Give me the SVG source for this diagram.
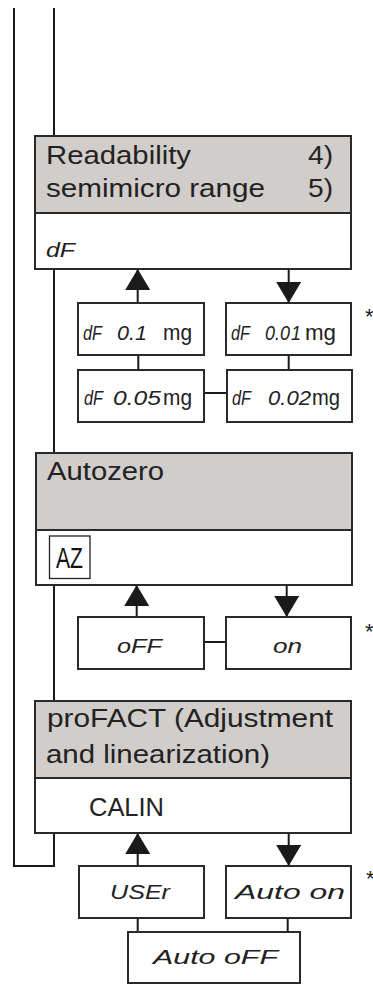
<svg xmlns="http://www.w3.org/2000/svg" width="373" height="984" viewBox="0 0 373 984">
<defs>
<marker id="ah" markerUnits="userSpaceOnUse" markerWidth="22" markerHeight="26" refX="21" refY="12.5" orient="auto">
<path d="M0,0 L21,12.5 L0,25 Z" fill="#1a1a1a"/>
</marker>
<style>
.ln{stroke:#1a1a1a;stroke-width:2;fill:none}
.box{fill:#fff;stroke:#2a2a2a;stroke-width:2}
.hd{fill:#d1cdca;stroke:#2a2a2a;stroke-width:2}
.t{font-family:"Liberation Sans",Arial,sans-serif;font-size:25.5px;fill:#222}
.seg{font-family:"Liberation Sans",Arial,sans-serif;font-style:italic;font-size:20px;fill:#222}
.mg{font-family:"Liberation Sans",Arial,sans-serif;font-size:22px;fill:#222}
.az{font-family:"Liberation Sans",Arial,sans-serif;font-size:29px;fill:#111}
.st{font-family:"Liberation Sans",Arial,sans-serif;font-size:22px;fill:#222}
</style>
</defs>
<g id="connectors">
<path class="ln" d="M54,8 V866 H14 V8"/>
<line class="ln" x1="137.7" y1="303" x2="137.7" y2="269" marker-end="url(#ah)"/>
<line class="ln" x1="288.7" y1="269" x2="288.7" y2="303" marker-end="url(#ah)"/>
<line class="ln" x1="138.3" y1="355" x2="138.3" y2="370"/>
<line class="ln" x1="288.7" y1="355" x2="288.7" y2="370"/>
<line class="ln" x1="204" y1="393" x2="227" y2="393"/>
<line class="ln" x1="136.7" y1="617" x2="136.7" y2="585" marker-end="url(#ah)"/>
<line class="ln" x1="286.7" y1="585" x2="286.7" y2="617" marker-end="url(#ah)"/>
<line class="ln" x1="204" y1="642" x2="226" y2="642"/>
<line class="ln" x1="137.7" y1="866" x2="137.7" y2="833" marker-end="url(#ah)"/>
<line class="ln" x1="288.7" y1="833" x2="288.7" y2="866" marker-end="url(#ah)"/>
<line class="ln" x1="137.7" y1="918" x2="137.7" y2="932"/>
<line class="ln" x1="287.7" y1="918" x2="287.7" y2="932"/>
</g>
<g id="readability">
<rect class="hd" x="35" y="136" width="316" height="77"/>
<rect class="box" x="35" y="213" width="316" height="56"/>
<text class="t" x="46" y="164" textLength="145" lengthAdjust="spacingAndGlyphs">Readability</text>
<text class="t" x="308" y="164" textLength="25" lengthAdjust="spacingAndGlyphs">4)</text>
<text class="t" x="46" y="197" textLength="219" lengthAdjust="spacingAndGlyphs">semimicro range</text>
<text class="t" x="308" y="197" textLength="25" lengthAdjust="spacingAndGlyphs">5)</text>
<text class="seg" x="46" y="257" font-size="21" textLength="29" lengthAdjust="spacingAndGlyphs">dF</text>
</g>
<g id="df01">
<rect class="box" x="78" y="303" width="126" height="52"/>
<text class="seg" x="83" y="340" textLength="19" lengthAdjust="spacingAndGlyphs">dF</text>
<text class="seg" x="117" y="340" textLength="30" lengthAdjust="spacingAndGlyphs">0.1</text>
<text class="mg" x="163" y="340" textLength="29" lengthAdjust="spacingAndGlyphs">mg</text>
</g>
<g id="df001">
<rect class="box" x="226" y="303" width="125" height="52"/>
<text class="seg" x="231" y="340" textLength="19" lengthAdjust="spacingAndGlyphs">dF</text>
<text class="seg" x="265" y="340" textLength="25" lengthAdjust="spacingAndGlyphs">0.0</text>
<text class="seg" x="291" y="340" textLength="10" lengthAdjust="spacingAndGlyphs">1</text>
<text class="mg" x="305" y="340" textLength="31" lengthAdjust="spacingAndGlyphs">mg</text>
</g>
<g id="df005">
<rect class="box" x="78" y="370" width="126" height="52"/>
<text class="seg" x="84" y="405" textLength="19" lengthAdjust="spacingAndGlyphs">dF</text>
<text class="seg" x="113" y="405" textLength="48" lengthAdjust="spacingAndGlyphs">0.05</text>
<text class="mg" x="163" y="405" textLength="29" lengthAdjust="spacingAndGlyphs">mg</text>
</g>
<g id="df002">
<rect class="box" x="227" y="370" width="125" height="52"/>
<text class="seg" x="232" y="405" textLength="19" lengthAdjust="spacingAndGlyphs">dF</text>
<text class="seg" x="268" y="405" textLength="43" lengthAdjust="spacingAndGlyphs">0.02</text>
<text class="mg" x="312" y="405" textLength="28" lengthAdjust="spacingAndGlyphs">mg</text>
</g>
<g id="autozero">
<rect class="hd" x="36" y="453" width="316" height="77"/>
<rect class="box" x="36" y="530" width="316" height="55"/>
<text class="t" x="47" y="480" textLength="117" lengthAdjust="spacingAndGlyphs">Autozero</text>
<rect x="49.5" y="536" width="40.5" height="42.5" fill="#fff" stroke="#222" stroke-width="1.3"/>
<text class="az" x="56" y="568" textLength="27" lengthAdjust="spacingAndGlyphs">AZ</text>
</g>
<g id="off">
<rect class="box" x="78" y="617" width="126" height="52"/>
<text class="seg" x="117" y="653" textLength="45" lengthAdjust="spacingAndGlyphs">oFF</text>
</g>
<g id="on">
<rect class="box" x="226" y="617" width="125" height="52"/>
<text class="seg" x="273" y="653" textLength="29" lengthAdjust="spacingAndGlyphs">on</text>
</g>
<g id="profact">
<rect class="hd" x="35" y="701" width="316" height="77"/>
<rect class="box" x="35" y="778" width="316" height="55"/>
<text class="t" x="47" y="727" textLength="286" lengthAdjust="spacingAndGlyphs">proFACT (Adjustment</text>
<text class="t" x="46" y="763" textLength="224" lengthAdjust="spacingAndGlyphs">and linearization)</text>
<text class="t" x="89" y="816" textLength="75" lengthAdjust="spacingAndGlyphs">CALIN</text>
</g>
<g id="user">
<rect class="box" x="79" y="866" width="125" height="52"/>
<text class="seg" x="110" y="899" textLength="60" lengthAdjust="spacingAndGlyphs">USEr</text>
</g>
<g id="autoon">
<rect class="box" x="226" y="866" width="125" height="52"/>
<text class="seg" x="235" y="899" textLength="110" lengthAdjust="spacingAndGlyphs">Auto on</text>
</g>
<g id="autooff">
<rect class="box" x="128" y="932" width="172" height="51"/>
<text class="seg" x="153" y="964" textLength="125" lengthAdjust="spacingAndGlyphs">Auto oFF</text>
</g>
<g id="notes">
<text class="st" x="365" y="324">*</text>
<text class="st" x="365" y="639">*</text>
<text class="st" x="366" y="886">*</text>
</g>
</svg>
